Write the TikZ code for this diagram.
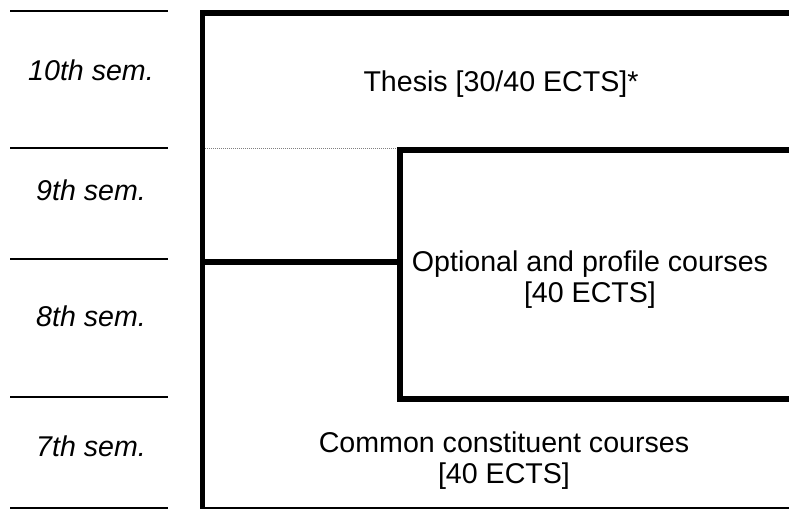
\documentclass[tikz,border=0pt]{standalone}
\usepackage{fontspec}
\setmainfont{Liberation Sans}
\begin{document}
\begin{tikzpicture}[x=0.5pt,y=-0.5pt,
    wall/.style={line width=2.8pt,line join=miter},
    semrule/.style={line width=1pt},
    semlabel/.style={font=\fontsize{14.3}{15.5}\selectfont\itshape},
    block/.style={font=\fontsize{14.3}{15.5}\selectfont,align=center}]
        \useasboundingbox (0,0) rectangle (789,509);
        % semester column
        \foreach \y in {11,148,259,397,508}
            \draw[semrule] (10,\y) -- (168,\y);
        \node[semlabel] (s10) at (91,70) {10th sem.};
        \node[semlabel] (s9) at (91,190) {9th sem.};
        \node[semlabel] (s8) at (91,316) {8th sem.};
        \node[semlabel] (s7) at (91,446) {7th sem.};
        % blocks
        \draw[wall] (789,13) -- (202.5,13) -- (202.5,509);
        \draw[wall] (789,150) -- (400,150) -- (400,399) -- (789,399);
        \draw[wall] (202.5,262) -- (400,262);
        \draw[gray,line width=0.5pt,dash pattern=on 0.5pt off 0.5pt] (205,148) -- (397,148);
        \draw[line width=0.75pt] (205,508) -- (789,508);
        \node[block] (thesis) at (501,84) {Thesis [30/40 ECTS]*};
        \node[block] (optional) at (590,280) {Optional and profile courses\\{}[40 ECTS]};
        \node[block] (common) at (504,461) {Common constituent courses\\{}[40 ECTS]};
\end{tikzpicture}
\end{document}
